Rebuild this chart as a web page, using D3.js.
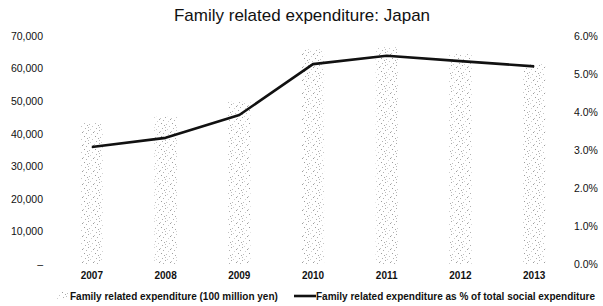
<!DOCTYPE html>
<html>
<head>
<meta charset="utf-8">
<script src="https://cdn.jsdelivr.net/npm/d3@7"></script>
<style>
  html, body { margin: 0; padding: 0; background: #fff; }
  svg { display: block; font-family: Arial, "Liberation Sans", sans-serif; }
</style>
</head>
<body>
<svg id="chart" width="603" height="306"></svg>
<script>
const years = ["2007", "2008", "2009", "2010", "2011", "2012", "2013"];
const expenditure = [43200, 45200, 49800, 65900, 66500, 64400, 61400];
const sharePct = [3.08, 3.32, 3.92, 5.26, 5.48, 5.34, 5.20];
const leftTicks = [0, 10000, 20000, 30000, 40000, 50000, 60000, 70000];
const rightTicks = [0, 1, 2, 3, 4, 5, 6];
const titleText = "Family related expenditure: Japan";
const legendBar = "Family related expenditure (100 million yen)";
const legendLine = "Family related expenditure as % of total social expenditure";

const svg = d3.select("#chart");

// sparse stipple pattern for bars (fixed dot layout, purely decorative)
const defs = svg.append("defs");
const pat = defs.append("pattern")
  .attr("id", "dots").attr("patternUnits", "userSpaceOnUse")
  .attr("width", 11).attr("height", 13);
const dotPos = [[0,0],[6,1],[9,3],[3,4],[7,6],[1,7],[10,8],[4,9],[8,11],[2,12],[5,2],[0,10]];
const dotCol = ["#a8a8a8","#c4c4c4","#b0b0b0","#cfcfcf","#9c9c9c","#bdbdbd"];
dotPos.forEach(([x, y], i) => {
  pat.append("rect").attr("x", x).attr("y", y).attr("width", 1).attr("height", 1)
    .attr("fill", dotCol[i % dotCol.length]);
});

const x = d3.scaleBand().domain(years).range([55, 571]).paddingInner(0.7).paddingOuter(0.35);
const yL = d3.scaleLinear().domain([0, 70000]).range([264, 36]);
const yR = d3.scaleLinear().domain([0, 6]).range([264, 36]);

// title
svg.append("text").attr("x", 302).attr("y", 21).attr("text-anchor", "middle")
  .attr("font-size", 17).attr("fill", "#111").text(titleText);

// bars
svg.append("g").selectAll("rect").data(years).join("rect")
  .attr("x", d => x(d))
  .attr("width", x.bandwidth())
  .attr("y", (d, i) => yL(expenditure[i]))
  .attr("height", (d, i) => yL(0) - yL(expenditure[i]))
  .attr("fill", "url(#dots)");

// left axis
const fmt = d3.format(",");
const axL = d3.axisLeft(yL).tickValues(leftTicks).tickSize(0).tickPadding(0)
  .tickFormat(d => d === 0 ? "\u2013" : fmt(d));
const gL = svg.append("g").attr("transform", "translate(43,0)").call(axL);
gL.select(".domain").remove();
gL.selectAll("text").attr("font-size", 10.5).attr("fill", "#111")
  .attr("font-family", "Arial, 'Liberation Sans', sans-serif");

// right axis
const axR = d3.axisRight(yR).tickValues(rightTicks).tickSize(0).tickPadding(0)
  .tickFormat(d => d.toFixed(1) + "%");
const gR = svg.append("g").attr("transform", "translate(574,0)").call(axR);
gR.select(".domain").remove();
gR.selectAll("text").attr("font-size", 10.5).attr("fill", "#111")
  .attr("font-family", "Arial, 'Liberation Sans', sans-serif");

// bottom axis
const axB = d3.axisBottom(x).tickSize(0).tickPadding(0);
const gB = svg.append("g").attr("transform", "translate(0,272)").call(axB);
gB.select(".domain").remove();
gB.selectAll("text").attr("font-size", 10).attr("font-weight", "bold").attr("fill", "#111")
  .attr("font-family", "Arial, 'Liberation Sans', sans-serif");

// line
const line = d3.line()
  .x((d, i) => x(years[i]) + x.bandwidth() / 2)
  .y(d => yR(d));
svg.append("path").datum(sharePct)
  .attr("d", line).attr("fill", "none").attr("stroke", "#111")
  .attr("stroke-width", 2.6).attr("stroke-linejoin", "round");

// legend
const lg = svg.append("g");
lg.append("rect").attr("x", 57).attr("y", 292).attr("width", 11).attr("height", 7)
  .attr("fill", "url(#dots)");
lg.append("text").attr("x", 70).attr("y", 300).attr("font-size", 10)
  .attr("font-weight", "bold").attr("fill", "#111").text(legendBar);
lg.append("line").attr("x1", 294).attr("x2", 316).attr("y1", 296).attr("y2", 296)
  .attr("stroke", "#111").attr("stroke-width", 2.6);
lg.append("text").attr("x", 316).attr("y", 300).attr("font-size", 10)
  .attr("font-weight", "bold").attr("fill", "#111").text(legendLine);
</script>
</body>
</html>
